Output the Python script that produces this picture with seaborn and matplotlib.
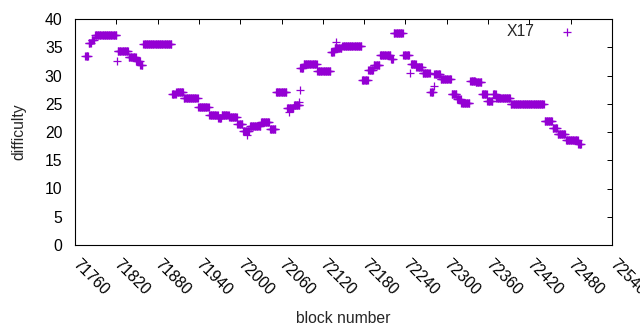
import matplotlib
matplotlib.use("Agg")
import matplotlib.pyplot as plt
import numpy as np
import pandas as pd
import seaborn as sns

# runs of constant difficulty: first block, last block, value
run_start = [71775, 71780, 71784, 71789, 71822, 71838, 71849, 71855, 71859, 71901,
             71907, 71918, 71939, 71955, 71968, 71973, 71984, 71996, 72004, 72014,
             72030, 72043, 72052, 72068, 72078, 72087, 72092, 72112, 72132, 72137,
             72148, 72177, 72186, 72194, 72203, 72219, 72223, 72237, 72248, 72256,
             72265, 72276, 72282, 72291, 72307, 72315, 72321, 72334, 72342, 72351,
             72359, 72367, 72372, 72393, 72442, 72454, 72461, 72473, 72491]
run_end = [71779, 71783, 71787, 71820, 71837, 71848, 71854, 71858, 71900, 71906,
           71917, 71938, 71954, 71967, 71972, 71983, 71995, 72003, 72013, 72029,
           72042, 72051, 72067, 72077, 72086, 72091, 72111, 72131, 72136, 72147,
           72176, 72185, 72193, 72202, 72218, 72222, 72236, 72245, 72255, 72264,
           72275, 72280, 72290, 72306, 72314, 72320, 72333, 72341, 72350, 72358,
           72366, 72371, 72392, 72441, 72453, 72460, 72472, 72490, 72495]
run_value = [33.5, 35.7, 36.3, 37.2, 34.4, 33.3, 32.5, 31.9, 35.6, 26.7,
             27.0, 26.1, 24.4, 23.0, 22.5, 23.0, 22.7, 21.5, 20.2, 21.0,
             21.7, 20.5, 27.0, 24.2, 24.7, 31.3, 32.1, 30.8, 34.2, 34.8,
             35.3, 29.2, 31.0, 31.9, 33.7, 33.0, 37.5, 33.7, 32.1, 31.5,
             30.4, 27.1, 30.2, 29.3, 26.8, 25.8, 25.2, 29.1, 28.8, 26.7,
             25.5, 26.7, 26.0, 24.9, 22.0, 20.7, 19.6, 18.6, 17.9]

# isolated blocks
single_block = [71821, 72087, 72247, 72281, 72139, 72010, 72085, 72071]
single_value = [32.5, 27.4, 30.4, 28.2, 35.9, 19.5, 25.3, 23.6]

x_ticks = list(range(71760, 72541, 60))
y_ticks = list(range(0, 41, 5))

blocks = np.concatenate([np.arange(s, e + 1) for s, e in zip(run_start, run_end)] + [np.array(single_block)])
values = np.concatenate([np.full(e - s + 1, v) for s, e, v in zip(run_start, run_end, run_value)]
                        + [np.array(single_value)])
df = pd.DataFrame({"block": blocks, "difficulty": values})

sns.set_style("white")
plt.rcParams["font.family"] = ["Liberation Sans", "DejaVu Sans"]

fig = plt.figure(figsize=(6.4, 3.3), dpi=100)
ax = fig.add_axes([75 / 640, 1 - 245 / 330, 537 / 640, 226 / 330])

sns.scatterplot(data=df, x="block", y="difficulty", marker="+", s=26, linewidth=0.9,
                color="#9400d3", label="X17", ax=ax)

ax.set_xlim(71760, 72540)
ax.set_ylim(0, 40)
ax.set_xticks(x_ticks)
ax.set_yticks(y_ticks)
ax.set_xticklabels([str(t) for t in x_ticks], rotation=-45, ha="left", va="center",
                   rotation_mode="anchor")
ax.tick_params(direction="in", length=3.5, width=0.7, top=True, right=True,
               labelsize=11.3, colors="black")
ax.tick_params(axis="x", pad=12)
ax.tick_params(axis="y", pad=9)
for sp in ax.spines.values():
    sp.set_color("black")
    sp.set_linewidth(0.8)

ax.set_xlabel("block number", fontsize=11.3, labelpad=9)
ax.set_ylabel("difficulty", fontsize=11.3, labelpad=13)

ax.legend(loc="upper right", bbox_to_anchor=(583 / 640, 1 - 24 / 330),
          bbox_transform=fig.transFigure, frameon=False, markerfirst=False,
          handlelength=2, handletextpad=1.1, borderpad=0, borderaxespad=0,
          fontsize=11.3, markerscale=1.0)

fig.savefig("out.png", dpi=100)
